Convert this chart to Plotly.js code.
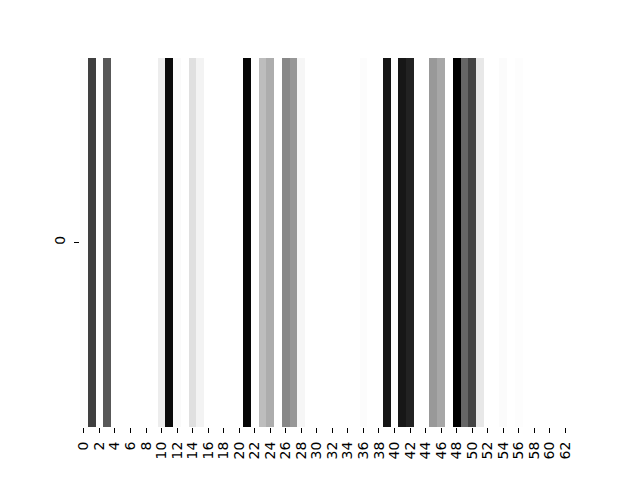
<!DOCTYPE html>
<html>
<head>
<meta charset="utf-8">
<script src="https://cdn.plot.ly/plotly-3.0.1.min.js"></script>
<style>html,body{margin:0;padding:0;background:#fff;}#chart{width:640px;height:480px;}</style>
</head>
<body>
<div id="chart"></div>
<script>
// column indices (0..63)
const columns = [0,1,2,3,4,5,6,7,8,9,10,11,12,13,14,15,16,17,18,19,20,21,22,23,24,25,26,27,28,29,30,31,
                 32,33,34,35,36,37,38,39,40,41,42,43,44,45,46,47,48,49,50,51,52,53,54,55,56,57,58,59,60,61,62,63];
// single row of values (0 = white, 1 = black)
const rowValues = [0.008,0.749,0,0.655,0,0,0,0,0,0,0.071,0.961,0.020,0,0.122,0.047,
                   0,0,0,0,0,0.980,0,0.259,0.322,0,0.467,0.408,0.035,0,0,0,
                   0,0,0,0,0.012,0,0,0.918,0,0.910,0.867,0,0,0.400,0.345,0,
                   1.0,0.600,0.733,0.090,0,0,0.016,0,0.008,0,0,0,0,0,0,0];
const rowLabels = ['0'];
const xTickVals = [0,2,4,6,8,10,12,14,16,18,20,22,24,26,28,30,32,34,36,38,40,42,44,46,48,50,52,54,56,58,60,62];
const xTickText = ['0','2','4','6','8','10','12','14','16','18','20','22','24','26','28','30','32','34','36','38','40','42','44','46','48','50','52','54','56','58','60','62'];

const trace = {
  type: 'heatmap',
  x: columns,
  y: [0],
  z: [rowValues],
  zmin: 0, zmax: 1,
  colorscale: [[0,'#ffffff'],[1,'#000000']],
  showscale: false,
  hoverinfo: 'none'
};
const font = {family: 'DejaVu Sans', size: 14, color: '#000'};
const layout = {
  width: 640, height: 480,
  margin: {l: 80, r: 63, t: 58, b: 53, pad: 0},
  paper_bgcolor: '#fff', plot_bgcolor: '#fff',
  font: font,
  showlegend: false,
  xaxis: {
    range: [-0.5, 63.5], tickmode: 'array', tickvals: xTickVals, ticktext: xTickText,
    tickangle: -90, ticks: 'outside', ticklen: 5, tickwidth: 1, tickcolor: '#000',
    ticklabelstandoff: 3,
    showgrid: false, zeroline: false, showline: false, tickfont: font, fixedrange: true
  },
  yaxis: {
    range: [-0.5, 0.5], tickmode: 'array', tickvals: [0], ticktext: rowLabels,
    tickangle: -90, ticks: 'outside', ticklen: 5, tickwidth: 1, tickcolor: '#000',
    ticklabelstandoff: 3,
    showgrid: false, zeroline: false, showline: false, tickfont: font, fixedrange: true
  }
};
Plotly.newPlot('chart', [trace], layout, {staticPlot: true, displayModeBar: false});
</script>
</body>
</html>
